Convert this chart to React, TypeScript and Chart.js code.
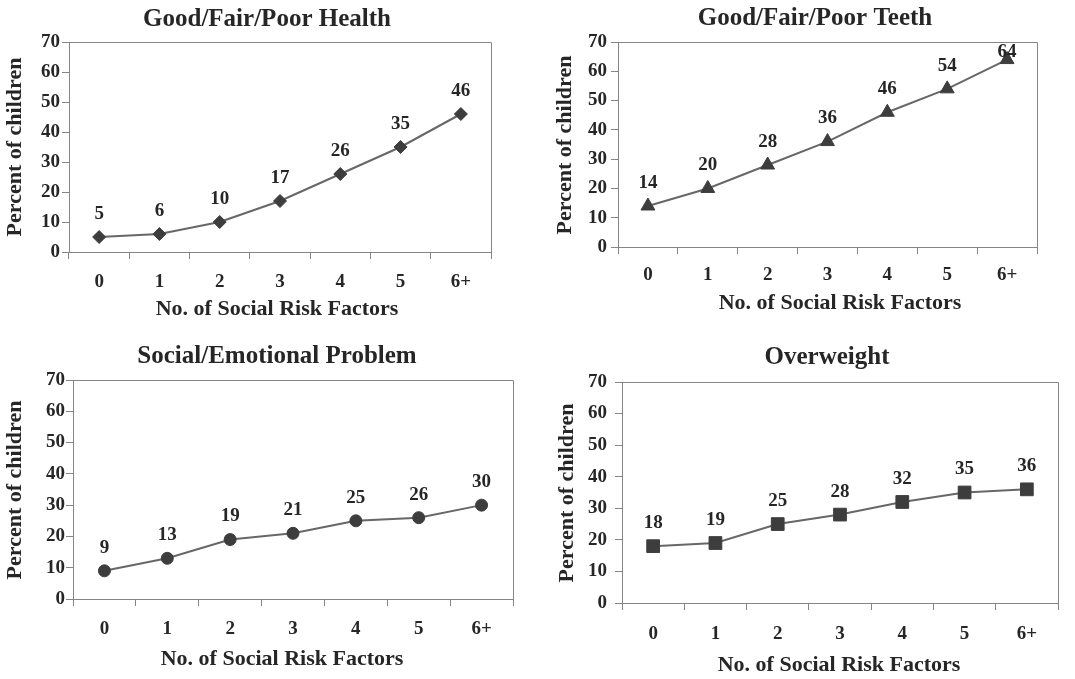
import React, { useEffect, useRef } from "react";
import { Chart, registerables } from "chart.js";

Chart.register(...registerables);

// ---------- data ----------
const categories = ["0", "1", "2", "3", "4", "5", "6+"];
const healthValues = [5, 6, 10, 17, 26, 35, 46];
const teethValues = [14, 20, 28, 36, 46, 54, 64];
const socialValues = [9, 13, 19, 21, 25, 26, 30];
const overweightValues = [18, 19, 25, 28, 32, 35, 36];
const yMin = 0;
const yMax = 70;
const yStep = 10;
const panelTitles = [
  "Good/Fair/Poor Health",
  "Good/Fair/Poor Teeth",
  "Social/Emotional Problem",
  "Overweight",
];
const xAxisTitle = "No. of Social Risk Factors";
const yAxisTitle = "Percent of children";

// ---------- styles ----------
const FONT = "'Liberation Serif', 'Times New Roman', serif";
const TEXT = "#262626";
const AXIS = "#858585";
const LINE = "#676767";
const MARK = "#3d3d3d";

type Spec = {
  box: { x: number; y: number; w: number; h: number };
  area: { l: number; t: number; r: number; b: number };
  title: { x: number; y: number };
  xTitle: { x: number; y: number };
  yTitle: { x: number; y: number };
  xTickPad: number;
  yTickPad: number;
  values: number[];
  titleText: string;
  marker: string;
  radius: number;
};

const specs: Spec[] = [
  {
    box: { x: 0, y: 0, w: 537, h: 340 },
    area: { l: 69, t: 42, r: 491, b: 252 },
    title: { x: 267, y: 20 },
    xTitle: { x: 277, y: 309 },
    yTitle: { x: 15, y: 147 },
    xTickPad: 12,
    yTickPad: 2,
    values: healthValues,
    titleText: panelTitles[0],
    marker: "rectRot",
    radius: 6.5,
  },
  {
    box: { x: 537, y: 0, w: 538, h: 340 },
    area: { l: 618, t: 42, r: 1037, b: 247 },
    title: { x: 815, y: 19 },
    xTitle: { x: 840, y: 303 },
    yTitle: { x: 565, y: 145 },
    xTickPad: 10,
    yTickPad: 4,
    values: teethValues,
    titleText: panelTitles[1],
    marker: "triangle",
    radius: 8,
  },
  {
    box: { x: 0, y: 340, w: 537, h: 339 },
    area: { l: 73, t: 380, r: 513, b: 599 },
    title: { x: 277, y: 357 },
    xTitle: { x: 282, y: 659 },
    yTitle: { x: 15, y: 490 },
    xTickPad: 12,
    yTickPad: 1,
    values: socialValues,
    titleText: panelTitles[2],
    marker: "circle",
    radius: 6,
  },
  {
    box: { x: 537, y: 340, w: 538, h: 339 },
    area: { l: 622, t: 382, r: 1058, b: 603 },
    title: { x: 827, y: 358 },
    xTitle: { x: 839, y: 665 },
    yTitle: { x: 567, y: 493 },
    xTickPad: 13,
    yTickPad: 8,
    values: overweightValues,
    titleText: panelTitles[3],
    marker: "rect",
    radius: 9,
  },
];

function Panel({ spec }: { spec: Spec }) {
  const ref = useRef<HTMLCanvasElement>(null);

  useEffect(() => {
    const s = spec;
    const canvas = ref.current;
    if (!canvas) return;
    const cw = s.box.w;
    const ch = s.box.h;
    const a = {
      l: s.area.l - s.box.x,
      t: s.area.t - s.box.y,
      r: s.area.r - s.box.x,
      b: s.area.b - s.box.y,
    };
    const xH = 45;

    const decor = {
      id: "decor",
      afterDatasetsDraw(chart: any) {
        const ctx = chart.ctx;
        const ca = chart.chartArea;
        ctx.save();
        ctx.fillStyle = TEXT;
        ctx.font = `bold 19px ${FONT}`;
        ctx.textAlign = "center";
        ctx.textBaseline = "middle";
        const meta = chart.getDatasetMeta(0);
        const data = chart.data.datasets[0].data;
        meta.data.forEach((pt: any, i: number) => {
          const y = Math.max(pt.y - 23, ca.top + 10);
          ctx.fillText(String(data[i]), pt.x, y);
        });
        ctx.restore();
      },
      afterDraw(chart: any) {
        const ctx = chart.ctx;
        const ca = chart.chartArea;
        ctx.save();
        // frame top & right
        ctx.strokeStyle = AXIS;
        ctx.lineWidth = 1;
        const top = Math.round(ca.top) + 0.5;
        const right = Math.round(ca.right) + 0.5;
        ctx.beginPath();
        ctx.moveTo(ca.left, top);
        ctx.lineTo(right, top);
        ctx.lineTo(right, ca.bottom);
        ctx.stroke();
        // titles
        ctx.fillStyle = TEXT;
        ctx.textAlign = "center";
        ctx.textBaseline = "middle";
        ctx.font = `bold 25px ${FONT}`;
        ctx.fillText(s.titleText, s.title.x - s.box.x, s.title.y - s.box.y);
        ctx.font = `bold 22px ${FONT}`;
        ctx.fillText(xAxisTitle, s.xTitle.x - s.box.x, s.xTitle.y - s.box.y);
        ctx.translate(s.yTitle.x - s.box.x, s.yTitle.y - s.box.y);
        ctx.rotate(-Math.PI / 2);
        ctx.fillText(yAxisTitle, 0, 0);
        ctx.restore();
      },
    };

    const tickFont = { family: FONT, size: 19, weight: "bold" as const };

    const chart = new Chart(canvas, {
      type: "line",
      data: {
        labels: categories,
        datasets: [
          {
            data: s.values,
            borderColor: LINE,
            borderWidth: 2,
            pointStyle: s.marker as any,
            pointRadius: s.radius,
            pointBackgroundColor: MARK,
            pointBorderColor: MARK,
            pointBorderWidth: 1,
            tension: 0,
            clip: false as any,
          },
        ],
      },
      options: {
        responsive: false,
        maintainAspectRatio: false,
        devicePixelRatio: 1,
        animation: false,
        events: [],
        layout: {
          padding: {
            left: 0,
            top: a.t,
            right: cw - a.r,
            bottom: ch - a.b - xH,
          },
        },
        plugins: {
          legend: { display: false },
          tooltip: { enabled: false },
          title: { display: false },
        },
        scales: {
          x: {
            type: "category",
            offset: true,
            grid: {
              offset: true,
              drawOnChartArea: false,
              drawTicks: true,
              tickLength: 7,
              color: AXIS,
            },
            border: { display: true, color: AXIS },
            ticks: {
              color: TEXT,
              font: tickFont,
              padding: s.xTickPad,
              maxRotation: 0,
              autoSkip: false,
            },
            afterFit: (sc: any) => {
              sc.height = xH;
            },
          },
          y: {
            min: yMin,
            max: yMax,
            ticks: {
              stepSize: yStep,
              color: TEXT,
              font: tickFont,
              padding: s.yTickPad,
            },
            grid: {
              drawOnChartArea: false,
              drawTicks: true,
              tickLength: 7,
              color: AXIS,
            },
            border: { display: true, color: AXIS },
            afterFit: (sc: any) => {
              sc.width = a.l;
            },
          },
        },
      },
      plugins: [decor],
    });

    return () => chart.destroy();
  }, [spec]);

  return (
    <canvas
      ref={ref}
      width={spec.box.w}
      height={spec.box.h}
      style={{
        position: "absolute",
        left: spec.box.x,
        top: spec.box.y,
        width: spec.box.w,
        height: spec.box.h,
        display: "block",
      }}
    />
  );
}

export default function App() {
  return (
    <div
      style={{
        position: "absolute",
        left: 0,
        top: 0,
        width: 1075,
        height: 679,
        background: "#ffffff",
        overflow: "hidden",
      }}
    >
      {specs.map((s, i) => (
        <Panel key={i} spec={s} />
      ))}
    </div>
  );
}
